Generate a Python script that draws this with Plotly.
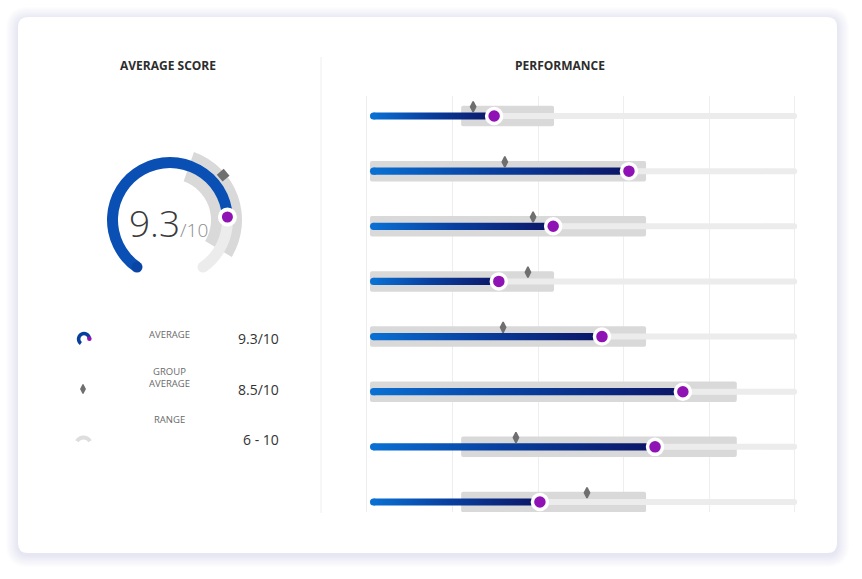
import plotly.graph_objects as go

W, H = 862, 579

# ---------------- data ----------------
rows = [0, 1, 2, 3, 4, 5, 6, 7]                      # performance items, top to bottom
perf_score = [2.97, 6.12, 4.35, 3.08, 5.49, 7.38, 6.73, 4.04]
perf_group = [2.48, 3.22, 3.88, 3.76, 3.18, None, 3.48, 5.14]
range_lo = [2.2, 0.07, 0.07, 0.07, 0.07, 0.07, 2.2, 2.2]
range_hi = [4.37, 6.52, 6.52, 4.37, 6.52, 8.64, 8.64, 6.52]
track_lo = 0.07
track_hi = 10.05
x_ticks = [0, 2, 4, 6, 8, 10]

# gauge (positions along the arc, 0..10 arc scale)
gauge_max = 10
gauge_avg = 8.0
gauge_group = 6.72
gauge_range = [5.67, 9.17]

score_text = "9.3"
score_max_text = "/10"
legend_labels = ["AVERAGE", "GROUP<br>AVERAGE", "RANGE"]
legend_values = ["9.3/10", "8.5/10", "6 - 10"]
titles = ["AVERAGE SCORE", "PERFORMANCE"]

# ---------------- styling helpers ----------------
FONT = "Open Sans"
BLUE_L, BLUE_R = "#0a6fd2", "#0c1566"
PURPLE = "#8e12b4"
BAND = "#d9d9d9"
TRACK = "#ececec"
DIAM = "#6f6f6f"

def px(x):
    return x / W

def py(y):
    return 1 - y / H

fig = go.Figure()

# ---------- performance subplot (x / y) ----------
X0 = 367                     # pixel position of value 0
ppu_x = 42.8                 # pixels per unit
XR = [-0.03, 10.08]          # axis range (a hair wider than the grid)
Y0, Y1 = 96, 512             # plot area top/bottom
row_px = 55.15
y_top = -20 / row_px
y_bot = 7 + 10 / row_px

# range boxes
fig.add_trace(go.Bar(
    orientation="h", y=rows, base=range_lo,
    x=[h - l for l, h in zip(range_lo, range_hi)],
    width=20.5 / row_px, marker=dict(color=BAND, cornerradius=2, line_width=0),
    cliponaxis=False, hoverinfo="skip", showlegend=False))
# light tracks
fig.add_trace(go.Bar(
    orientation="h", y=rows, base=[track_lo] * len(rows),
    x=[track_hi - track_lo] * len(rows),
    width=6 / row_px, marker=dict(color=TRACK, cornerradius=3, line_width=0),
    cliponaxis=False, hoverinfo="skip", showlegend=False))

# gradient blue bars
half = 3.6 / row_px
cap = 3.6 / ppu_x
for r, s in zip(rows, perf_score):
    x_start = track_lo + cap
    fig.add_trace(go.Scatter(
        x=[x_start, s, s, x_start, x_start],
        y=[r - half, r - half, r + half, r + half, r - half],
        mode="lines", line=dict(width=0), fill="toself",
        fillgradient=dict(type="horizontal",
                          colorscale=[[0, BLUE_L], [0.45, "#0840a0"], [1, BLUE_R]]),
        hoverinfo="skip", showlegend=False, cliponaxis=False))
fig.add_trace(go.Scatter(
    x=[track_lo + cap] * len(rows), y=rows, mode="markers",
    marker=dict(size=7.2, color=BLUE_L, line_width=0),
    hoverinfo="skip", showlegend=False, cliponaxis=False))

# group-average diamonds
gr_x = [g for g in perf_group if g is not None]
gr_y = [r - 0.168 for r, g in zip(rows, perf_group) if g is not None]
fig.add_trace(go.Scatter(
    x=gr_x, y=gr_y, mode="markers",
    marker=dict(symbol="diamond-tall", size=7.5, color=DIAM, line=dict(width=1.5, color=DIAM)),
    hoverinfo="skip", showlegend=False, cliponaxis=False))
# score dots
fig.add_trace(go.Scatter(
    x=perf_score, y=rows, mode="markers",
    marker=dict(size=15, color=PURPLE, line=dict(width=3.5, color="white")),
    hoverinfo="skip", showlegend=False, cliponaxis=False))

fig.update_layout(
    xaxis=dict(domain=[px(X0 + XR[0] * ppu_x), px(X0 + XR[1] * ppu_x)], range=XR, tickvals=x_ticks,
               showticklabels=False, showgrid=True, gridcolor="#eeeeee", gridwidth=1,
               zeroline=False, showline=False, ticks="", fixedrange=True),
    yaxis=dict(domain=[py(Y1), py(Y0)], range=[y_bot, y_top], visible=False,
               showgrid=False, zeroline=False, fixedrange=True),
)

# ---------- gauge (polar) ----------
GC_X, GC_Y, GR = 170, 220, 80
START, SWEEP = 235, 290
k = SWEEP / gauge_max

fig.add_trace(go.Barpolar(
    theta=[(gauge_range[0] + gauge_range[1]) / 2 * k], width=[(gauge_range[1] - gauge_range[0]) * k],
    base=[41], r=[31], marker=dict(color=BAND, line_width=0), subplot="polar",
    hoverinfo="skip", showlegend=False))
fig.add_trace(go.Barpolar(
    theta=[gauge_max / 2 * k], width=[gauge_max * k], base=[52], r=[11],
    marker=dict(color=TRACK, line_width=0), subplot="polar",
    hoverinfo="skip", showlegend=False))
fig.add_trace(go.Barpolar(
    theta=[gauge_avg / 2 * k], width=[gauge_avg * k], base=[52], r=[11],
    marker=dict(color="#0a50b4", line_width=0), subplot="polar",
    hoverinfo="skip", showlegend=False))
fig.add_trace(go.Scatterpolar(
    theta=[0, gauge_max * k], r=[57.5, 57.5], mode="markers",
    marker=dict(size=11, color=["#0a45a6", TRACK], line_width=0), subplot="polar",
    hoverinfo="skip", showlegend=False))
fig.add_trace(go.Scatterpolar(
    theta=[gauge_group * k], r=[69.5], mode="markers",
    marker=dict(symbol="square", size=9, angle=50, color=DIAM, line_width=0),
    subplot="polar", hoverinfo="skip", showlegend=False))
fig.add_trace(go.Scatterpolar(
    theta=[gauge_avg * k], r=[57.5], mode="markers",
    marker=dict(size=15, color=PURPLE, line=dict(width=4, color="white")),
    subplot="polar", hoverinfo="skip", showlegend=False))

hidden_polar = dict(
    bgcolor="rgba(0,0,0,0)",
    radialaxis=dict(visible=False, showgrid=False, showline=False, showticklabels=False, ticks=""),
    angularaxis=dict(visible=False, showgrid=False, showline=False, showticklabels=False, ticks="",
                     direction="clockwise", rotation=START),
)
pol = dict(hidden_polar)
pol.update(domain=dict(x=[px(GC_X - GR), px(GC_X + GR)], y=[py(GC_Y + GR), py(GC_Y - GR)]))
pol["radialaxis"] = dict(hidden_polar["radialaxis"], range=[0, GR])
fig.update_layout(polar=pol)

# ---------- legend icons ----------
# mini gauge icon
L1X, L1Y, L1R = 84, 339, 10
fig.add_trace(go.Barpolar(
    theta=[gauge_avg / 2 * k], width=[gauge_avg * k], base=[3.6], r=[3.6],
    marker=dict(color="#0a3e9e", line_width=0), subplot="polar2",
    hoverinfo="skip", showlegend=False))
fig.add_trace(go.Scatterpolar(
    theta=[gauge_avg * k], r=[5.4], mode="markers",
    marker=dict(size=4.5, color=PURPLE, line_width=0), subplot="polar2",
    hoverinfo="skip", showlegend=False))
pol2 = dict(hidden_polar)
pol2.update(domain=dict(x=[px(L1X - L1R), px(L1X + L1R)], y=[py(L1Y + L1R), py(L1Y - L1R)]))
pol2["radialaxis"] = dict(hidden_polar["radialaxis"], range=[0, L1R])
fig.update_layout(polar2=pol2)

# range arch icon
L3X, L3Y, L3R = 83.5, 445, 12
fig.add_trace(go.Barpolar(
    theta=[0], width=[120], base=[5.5], r=[4],
    marker=dict(color="#dedede", line_width=0), subplot="polar3",
    hoverinfo="skip", showlegend=False))
pol3 = dict(hidden_polar)
pol3.update(domain=dict(x=[px(L3X - L3R), px(L3X + L3R)], y=[py(L3Y + L3R), py(L3Y - L3R)]))
pol3["radialaxis"] = dict(hidden_polar["radialaxis"], range=[0, L3R])
pol3["angularaxis"] = dict(hidden_polar["angularaxis"], rotation=90)
fig.update_layout(polar3=pol3)

# diamond icon (tiny cartesian pair)
fig.add_trace(go.Scatter(
    x=[0], y=[0], mode="markers", xaxis="x2", yaxis="y2",
    marker=dict(symbol="diamond-tall", size=6.5, color=DIAM, line=dict(width=1.2, color=DIAM)),
    hoverinfo="skip", showlegend=False))
fig.update_layout(
    xaxis2=dict(domain=[px(78), px(88)], range=[-1, 1], visible=False, fixedrange=True),
    yaxis2=dict(domain=[py(394), py(384)], range=[-1, 1], visible=False, fixedrange=True),
)

# ---------- card & shadow ----------
def rrect(x0, y0, x1, y1, r):
    X0_, X1_ = px(x0), px(x1)
    Y0_, Y1_ = py(y0), py(y1)
    rx, ry = r / W, r / H
    return (f"M{X0_ + rx},{Y0_} L{X1_ - rx},{Y0_} Q{X1_},{Y0_} {X1_},{Y0_ - ry} "
            f"L{X1_},{Y1_ + ry} Q{X1_},{Y1_} {X1_ - rx},{Y1_} L{X0_ + rx},{Y1_} "
            f"Q{X0_},{Y1_} {X0_},{Y1_ + ry} L{X0_},{Y0_ - ry} Q{X0_},{Y0_} {X0_ + rx},{Y0_} Z")

shapes = []
for i in range(12, 0, -1):
    shapes.append(dict(type="path", path=rrect(18 - i, 17 - i + 2, 837 + i, 553 + i + 2, 10 + i),
                       xref="paper", yref="paper", fillcolor="rgba(165,165,215,0.018)",
                       line=dict(width=0), layer="below"))
shapes.append(dict(type="path", path=rrect(18, 17, 837, 553, 10), xref="paper", yref="paper",
                   fillcolor="white", line=dict(width=0), layer="below"))
shapes.append(dict(type="line", x0=px(321), x1=px(321), y0=py(57), y1=py(513),
                   xref="paper", yref="paper", line=dict(color="#eeeeee", width=1), layer="below"))

# ---------- text ----------
ann = []
def add_text(x, y, text, font, xanchor="center"):
    ann.append(dict(x=px(x), y=py(y), xref="paper", yref="paper", text=text, showarrow=False,
                    xanchor=xanchor, yanchor="middle", font=font))

add_text(168, 65, f"<b>{titles[0]}</b>", dict(family=FONT, size=12, color="#2d2d2d"))
add_text(560, 65, f"<b>{titles[1]}</b>", dict(family=FONT, size=12, color="#2d2d2d"))
add_text(168, 222, f"{score_text}<span style='font-size:19px;color:#8c8c8c'>{score_max_text}</span>",
         dict(family=FONT, size=37, color="#3a3a3a", weight=300))
label_y = [334, 377, 419]
value_y = [338, 389, 439]
for lab, ly in zip(legend_labels, label_y):
    add_text(169, ly, lab, dict(family=FONT, size=9.5, color="#6a6a6a"))
for val, vy in zip(legend_values, value_y):
    add_text(281, vy, val, dict(family=FONT, size=14, color="#333333"), xanchor="right")

fig.update_layout(
    width=W, height=H, margin=dict(l=0, r=0, t=0, b=0),
    paper_bgcolor="white", plot_bgcolor="rgba(0,0,0,0)",
    barmode="overlay", showlegend=False,
    shapes=shapes, annotations=ann,
    font=dict(family=FONT),
)

fig.write_html("out.html", config=dict(displayModeBar=False, staticPlot=True),
               post_script="document.body.style.margin='0px';")
